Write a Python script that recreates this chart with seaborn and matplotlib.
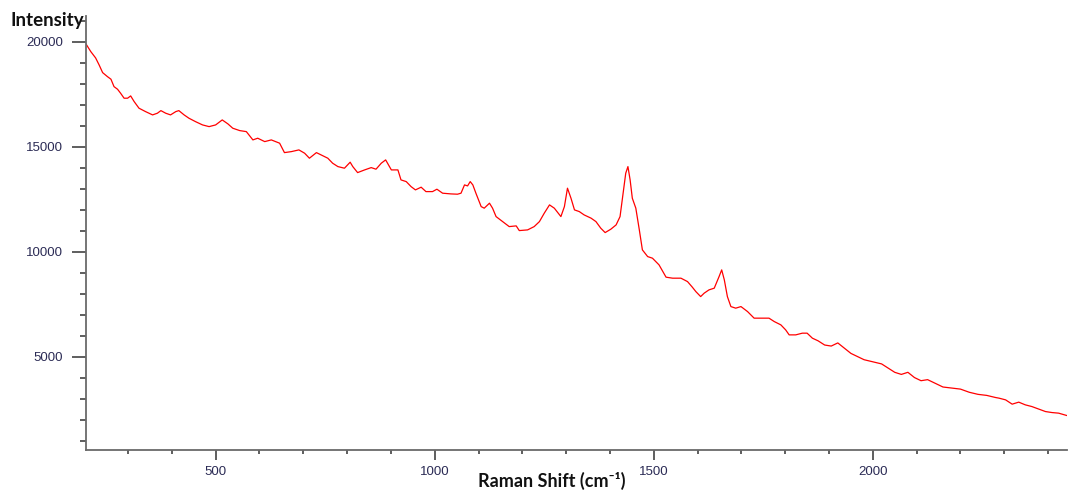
import matplotlib
matplotlib.use("Agg")
import matplotlib.pyplot as plt
import seaborn as sns
import pandas as pd
from matplotlib.ticker import MultipleLocator, FixedLocator

# ---- data ----
raman_shift = [204, 215, 226, 234, 242, 253, 261, 268, 276, 283,
               291, 299, 306, 314, 325, 340, 356, 367, 375, 386,
               397, 409, 416, 428, 439, 454, 470, 485, 500,
               515, 528, 539, 555, 570, 585, 596, 612, 627, 646,
               657, 673, 690, 703, 714, 730, 745, 756, 767, 779,
               794, 807, 813, 824, 840, 855, 866, 878, 888, 901,
               916, 923, 935, 946, 956, 969, 980, 995, 1005, 1018,
               1037, 1052,
               1060, 1068, 1075, 1081, 1087, 1094, 1106, 1113, 1125, 1132,
               1140, 1155, 1170, 1186, 1193, 1212, 1227, 1239, 1250, 1262,
               1273, 1288, 1296, 1303, 1311, 1319, 1330,
               1341, 1357, 1368, 1379, 1389, 1402, 1414, 1423, 1430, 1436,
               1441, 1446, 1451, 1459, 1467, 1474, 1486, 1497, 1512, 1528,
               1543, 1562, 1577, 1588,
               1596, 1607, 1615, 1626, 1638, 1649, 1655, 1661, 1668, 1676,
               1687, 1699, 1714, 1729, 1748, 1763, 1775, 1790, 1801, 1809,
               1824, 1839, 1850, 1862,
               1875, 1890, 1905, 1920, 1935, 1950, 1965, 1980, 2000, 2020,
               2035, 2050, 2065, 2080, 2095, 2110, 2125, 2140, 2160, 2180,
               2200, 2220, 2240, 2260, 2280,
               2288, 2303, 2318, 2333, 2348, 2363, 2379, 2394, 2409, 2424, 2443]

intensity = [19890, 19524, 19224, 18890, 18524, 18333, 18210, 17857, 17733, 17543,
             17305, 17305, 17414, 17143, 16829, 16667, 16510, 16590, 16714, 16590,
             16510, 16667, 16714, 16510, 16352, 16190, 16033, 15952, 16033,
             16271, 16081, 15876, 15762, 15714, 15319, 15400, 15238, 15319, 15162,
             14714, 14762, 14843, 14686, 14447, 14714, 14557, 14447, 14209, 14048,
             13971, 14257, 14048, 13762, 13890, 14000, 13924, 14209, 14367, 13890,
             13890, 13414, 13333, 13095, 12938, 13067, 12857, 12857, 12971, 12781,
             12747, 12733,
             12781, 13176, 13128, 13333, 13176, 12781, 12143, 12067, 12305, 12067,
             11667, 11428, 11190, 11224, 11000, 11033, 11190, 11428, 11828, 12224,
             12067, 11667, 12143, 13019, 12543, 11986, 11905,
             11747, 11590, 11428, 11114, 10905, 11067, 11271, 11667, 12781, 13733,
             14048, 13414, 12543, 12067, 11033, 10081, 9762, 9685, 9367, 8781,
             8733, 8733, 8571, 8305,
             8095, 7857, 8019, 8176, 8257, 8809, 9128, 8652, 7857, 7381,
             7305, 7381, 7143, 6829, 6829, 6829, 6667, 6510, 6271, 6033,
             6033, 6114, 6114, 5876,
             5750, 5550, 5500, 5650, 5400, 5150, 5000, 4850, 4750, 4650,
             4450, 4250, 4150, 4250, 4000, 3850, 3900, 3750, 3550, 3500,
             3450, 3300, 3200, 3150, 3050,
             3019, 2938, 2733, 2829, 2700, 2619, 2495, 2381, 2333, 2305, 2190]

x_major_ticks = [500, 1000, 1500, 2000]
y_major_ticks = [5000, 10000, 15000, 20000]

df = pd.DataFrame({"shift": raman_shift, "intensity": intensity})

sns.set_theme(style="ticks")
plt.rcParams["font.family"] = ["Liberation Sans", "DejaVu Sans"]

fig = plt.figure(figsize=(10.68, 4.90), dpi=100)
ax = fig.add_axes([0.0805, 0.0825, 0.9185, 0.885])

sns.lineplot(data=df, x="shift", y="intensity", ax=ax, color="#ff0000",
             linewidth=0.9, sort=False)

ax.set_xlim(204, 2443)
ax.set_ylim(570, 21224)

ax.xaxis.set_major_locator(FixedLocator(x_major_ticks))
ax.xaxis.set_minor_locator(MultipleLocator(100))
ax.yaxis.set_major_locator(FixedLocator(y_major_ticks))
ax.yaxis.set_minor_locator(MultipleLocator(1000))

for s in ["top", "right"]:
    ax.spines[s].set_visible(False)
for s in ["left", "bottom"]:
    ax.spines[s].set_color("#6a6a6a")
    ax.spines[s].set_linewidth(1.3)

lab_color = "#2b2b55"
ax.tick_params(axis="y", which="major", direction="out", length=10, width=1.1,
               color="#333333", labelsize=9.5, labelcolor=lab_color, pad=6.5)
ax.tick_params(axis="y", which="minor", direction="out", length=4.3, width=1.1,
               color="#333333")
ax.tick_params(axis="x", which="major", direction="out", length=7, width=1.1,
               color="#333333", labelsize=9.5, labelcolor=lab_color, pad=5)
ax.tick_params(axis="x", which="minor", direction="out", length=2.8, width=1.1,
               color="#333333")

ax.set_xlabel("")
ax.set_ylabel("")
ax.grid(False)

fig.text(0.0095, 0.959, "Intensity", fontsize=13.5, fontweight="bold",
         family=["Lato", "DejaVu Sans"], color="#111111", ha="left", va="center")
fig.text(0.517, 0.0184, "Raman Shift (cm\u207b\u00b9)", fontsize=13, fontweight="bold",
         family=["Lato", "DejaVu Sans"], color="#111111", ha="center", va="center")

fig.savefig("out.png", dpi=100)
